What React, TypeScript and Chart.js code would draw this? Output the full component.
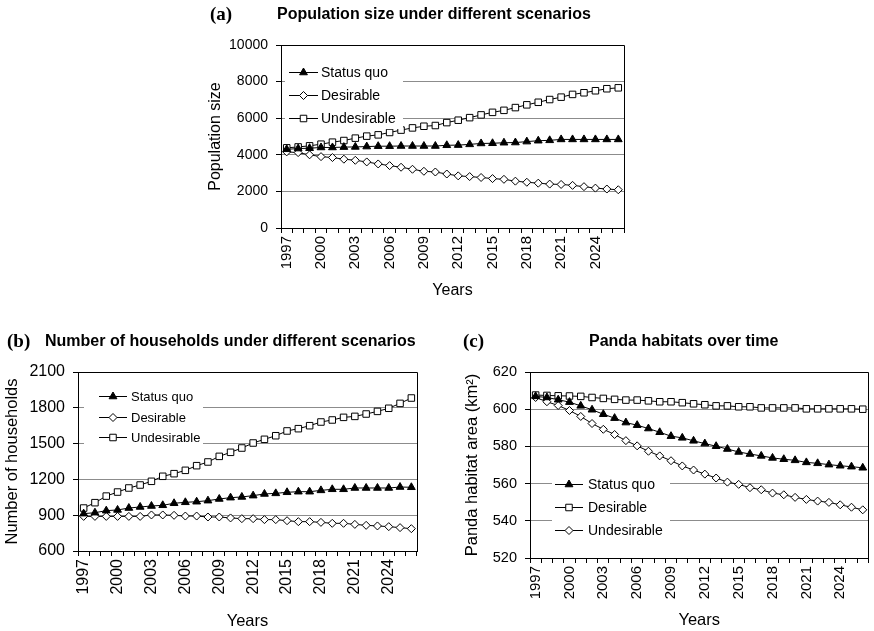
import React, { useEffect, useRef } from 'react';
import { Chart, registerables } from 'chart.js';

Chart.register(...registerables);
Chart.defaults.font.family = '"Liberation Sans", Arial, sans-serif';
Chart.defaults.color = '#000';

const years = ['1997', '1998', '1999', '2000', '2001', '2002', '2003', '2004', '2005', '2006',
  '2007', '2008', '2009', '2010', '2011', '2012', '2013', '2014', '2015', '2016',
  '2017', '2018', '2019', '2020', '2021', '2022', '2023', '2024', '2025', '2026'];

// (a) Population size
const popStatusQuo = [4300, 4340, 4360, 4400, 4400, 4420, 4430, 4450, 4470, 4470, 4480, 4480, 4480, 4480, 4520,
  4530, 4570, 4620, 4630, 4660, 4670, 4720, 4770, 4790, 4840, 4840, 4840, 4840, 4840, 4840];
const popDesirable = [4160, 4120, 4000, 3900, 3850, 3760, 3700, 3610, 3500, 3410, 3320, 3210, 3100, 3060, 2950,
  2850, 2810, 2760, 2700, 2660, 2560, 2500, 2450, 2400, 2380, 2330, 2260, 2180, 2130, 2090];
const popUndesirable = [4380, 4430, 4490, 4580, 4690, 4780, 4910, 5020, 5090, 5220, 5350, 5470, 5560, 5600, 5760,
  5890, 6030, 6180, 6320, 6430, 6580, 6730, 6870, 7020, 7150, 7300, 7390, 7500, 7610, 7660];

// (b) Number of households
const hhStatusQuo = [913, 921, 938, 944, 960, 969, 977, 983, 1000, 1008, 1013, 1022, 1036, 1047, 1053,
  1064, 1078, 1083, 1092, 1097, 1097, 1108, 1117, 1117, 1128, 1128, 1128, 1128, 1136, 1134];
const hhDesirable = [890, 890, 890, 890, 890, 890, 902, 902, 899, 893, 893, 885, 885, 877, 871,
  871, 863, 863, 854, 846, 846, 840, 832, 832, 823, 815, 810, 804, 796, 787];
const hhUndesirable = [960, 1005, 1060, 1094, 1128, 1153, 1184, 1226, 1248, 1276, 1315, 1346, 1393, 1427, 1463,
  1505, 1536, 1566, 1606, 1625, 1650, 1681, 1698, 1720, 1728, 1748, 1770, 1796, 1837, 1882];

// (c) Panda habitat area (km2)
const habStatusQuo = [606.9, 606.3, 605.1, 603.8, 601.8, 599.7, 597.3, 595.2, 592.8, 591.4, 589.6, 587.6, 585.5, 584.6, 583.0,
  581.5, 580.1, 578.6, 577.0, 575.9, 574.9, 573.8, 573.1, 572.5, 571.4, 570.9, 570.2, 569.6, 569.1, 568.5];
const habDesirable = [607.6, 607.4, 607.2, 607.1, 606.9, 606.3, 605.8, 605.3, 604.9, 604.9, 604.5, 604.0, 604.0, 603.5, 602.9,
  602.4, 601.8, 601.8, 601.3, 601.3, 600.7, 600.7, 600.7, 600.7, 600.2, 600.2, 600.2, 600.2, 600.2, 600.0];
const habUndesirable = [606.3, 604.0, 602.0, 599.3, 596.1, 592.3, 589.2, 586.4, 583.1, 580.3, 577.4, 574.9, 572.3, 569.5, 567.3,
  565.1, 563.0, 560.8, 559.6, 557.8, 556.7, 554.9, 554.0, 552.6, 551.5, 550.6, 549.9, 548.6, 547.3, 545.9];

type Marker = 'triangle' | 'rect' | 'rectRot';
interface SeriesCfg { label: string; data: number[]; marker: Marker; }
interface LegendCfg { lineStart: number; lineEnd: number; textX: number; rows: number[]; bgLeft: number; bgRight: number; }
interface PanelCfg {
  letter: string; title: string;
  left: number; top: number; width: number; height: number;
  letterX: number; titleX: number; headY: number;
  yAxisWidth: number; padTop: number; padRight: number; xAxisHeight: number;
  yMin: number; yMax: number; yStep: number; yTitle: string; yTitlePad: number; xTitlePad: number;
  yTickFont: number; xTickFont: number; legendFont: number; axisTitleFont: number;
  series: SeriesCfg[];
  legend: LegendCfg;
}

const markerRadius: Record<Marker, number> = { triangle: 4.5, rect: 4.6, rectRot: 4 };

function drawMarker(ctx: CanvasRenderingContext2D, m: Marker, x: number, y: number) {
  const r = markerRadius[m];
  ctx.beginPath();
  if (m === 'triangle') {
    ctx.moveTo(x, y - r);
    ctx.lineTo(x + r * 0.866, y + r * 0.5);
    ctx.lineTo(x - r * 0.866, y + r * 0.5);
    ctx.closePath();
    ctx.fillStyle = '#000';
  } else if (m === 'rect') {
    const h = r * Math.SQRT1_2;
    ctx.rect(x - h, y - h, 2 * h, 2 * h);
    ctx.fillStyle = '#fff';
  } else {
    ctx.moveTo(x, y - r);
    ctx.lineTo(x + r, y);
    ctx.lineTo(x, y + r);
    ctx.lineTo(x - r, y);
    ctx.closePath();
    ctx.fillStyle = '#fff';
  }
  ctx.fill();
  ctx.stroke();
}

const panels: PanelCfg[] = [
  {
    letter: '(a)', title: 'Population size under different scenarios',
    left: 195, top: 0, width: 440, height: 305,
    letterX: 15, titleX: 82, headY: 15,
    yAxisWidth: 86, padTop: 45, padRight: 11, xAxisHeight: 77,
    yMin: 0, yMax: 10000, yStep: 2000, yTitle: 'Population size', yTitlePad: 11, xTitlePad: 5,
    yTickFont: 14, xTickFont: 15, legendFont: 14, axisTitleFont: 16,
    series: [
      { label: 'Status quo', data: popStatusQuo, marker: 'triangle' },
      { label: 'Desirable', data: popDesirable, marker: 'rectRot' },
      { label: 'Undesirable', data: popUndesirable, marker: 'rect' },
    ],
    legend: { lineStart: 8, lineEnd: 37, textX: 40, rows: [27, 50, 73], bgLeft: 4, bgRight: 122 },
  },
  {
    letter: '(b)', title: 'Number of households under different scenarios',
    left: 0, top: 315, width: 430, height: 316,
    letterX: 7, titleX: 45, headY: 27,
    yAxisWidth: 78, padTop: 57, padRight: 13, xAxisHeight: 80,
    yMin: 600, yMax: 2100, yStep: 300, yTitle: 'Number of households', yTitlePad: 3, xTitlePad: 0,
    yTickFont: 16, xTickFont: 16, legendFont: 13, axisTitleFont: 16.5,
    series: [
      { label: 'Status quo', data: hhStatusQuo, marker: 'triangle' },
      { label: 'Desirable', data: hhDesirable, marker: 'rectRot' },
      { label: 'Undesirable', data: hhUndesirable, marker: 'rect' },
    ],
    legend: { lineStart: 21, lineEnd: 49, textX: 53, rows: [24, 45, 65], bgLeft: 6, bgRight: 125 },
  },
  {
    letter: '(c)', title: 'Panda habitats over time',
    left: 440, top: 315, width: 434, height: 316,
    letterX: 23, titleX: 149, headY: 27,
    yAxisWidth: 90, padTop: 57, padRight: 1, xAxisHeight: 73,
    yMin: 520, yMax: 620, yStep: 20, yTitle: 'Panda habitat area (km²)', yTitlePad: 23, xTitlePad: 1,
    yTickFont: 14.5, xTickFont: 15, legendFont: 14, axisTitleFont: 16.5,
    series: [
      { label: 'Status quo', data: habStatusQuo, marker: 'triangle' },
      { label: 'Desirable', data: habDesirable, marker: 'rect' },
      { label: 'Undesirable', data: habUndesirable, marker: 'rectRot' },
    ],
    legend: { lineStart: 25, lineEnd: 53, textX: 58, rows: [112, 135, 158], bgLeft: 22, bgRight: 140 },
  },
];

function Panel({ cfg }: { cfg: PanelCfg }) {
  const ref = useRef<HTMLCanvasElement | null>(null);
  useEffect(() => {
    const canvas = ref.current;
    if (!canvas) return;
    const framePlugin = {
      id: 'frame' + cfg.letter,
      afterDraw(chart: any) {
        const { ctx, chartArea } = chart;
        const { left, right, top, bottom } = chartArea;
        ctx.save();
        ctx.strokeStyle = '#000';
        ctx.lineWidth = 1;
        const t = Math.round(top) + 0.5;
        const r = Math.round(right) + 0.5;
        ctx.beginPath();
        ctx.moveTo(Math.round(left), t);
        ctx.lineTo(r, t);
        ctx.lineTo(r, Math.round(bottom) + 1);
        ctx.stroke();

        const L = cfg.legend;
        ctx.fillStyle = '#fff';
        ctx.fillRect(left + L.bgLeft, top + L.rows[0] - 11, L.bgRight - L.bgLeft, L.rows[2] - L.rows[0] + 22);
        cfg.series.forEach((s, i) => {
          const y = Math.round(top + L.rows[i]) + 0.5;
          ctx.strokeStyle = '#000';
          ctx.beginPath();
          ctx.moveTo(left + L.lineStart, y);
          ctx.lineTo(left + L.lineEnd, y);
          ctx.stroke();
          drawMarker(ctx, s.marker, left + (L.lineStart + L.lineEnd) / 2, y);
          ctx.fillStyle = '#000';
          ctx.font = `${cfg.legendFont}px "Liberation Sans", Arial, sans-serif`;
          ctx.textBaseline = 'middle';
          ctx.textAlign = 'left';
          ctx.fillText(s.label, left + L.textX, y + 0.5);
        });

        ctx.fillStyle = '#000';
        ctx.textBaseline = 'middle';
        ctx.textAlign = 'left';
        ctx.font = 'bold 19px "Liberation Serif", "Times New Roman", serif';
        ctx.fillText(cfg.letter, cfg.letterX, cfg.headY);
        ctx.font = 'bold 16px "Liberation Sans", Arial, sans-serif';
        ctx.fillText(cfg.title, cfg.titleX, cfg.headY);
        ctx.restore();
      },
    };

    const chart = new Chart(canvas, {
      type: 'line',
      data: {
        labels: years,
        datasets: cfg.series.map((s) => ({
          label: s.label,
          data: s.data,
          borderColor: '#000',
          borderWidth: 1,
          pointStyle: s.marker,
          pointRadius: markerRadius[s.marker],
          pointBorderWidth: 1,
          pointBorderColor: '#000',
          pointBackgroundColor: s.marker === 'triangle' ? '#000' : '#fff',
          tension: 0,
          fill: false,
        })),
      },
      options: {
        responsive: false,
        animation: false,
        events: [],
        layout: { padding: { left: 0, top: cfg.padTop, right: cfg.padRight, bottom: 0 } },
        plugins: { legend: { display: false }, tooltip: { enabled: false }, title: { display: false } },
        scales: {
          x: {
            type: 'category',
            offset: true,
            grid: { offset: true, drawOnChartArea: false, drawTicks: true, tickLength: 5, tickColor: '#000', color: '#000' },
            border: { color: '#000', width: 1 },
            ticks: {
              autoSkip: false,
              maxRotation: 90,
              minRotation: 90,
              padding: 3,
              color: '#000',
              font: { size: cfg.xTickFont },
              callback: function (this: any, val: any, index: number) {
                return index % 3 === 0 ? this.getLabelForValue(val) : '';
              },
            },
            title: {
              display: true, text: 'Years', color: '#000',
              font: { size: cfg.axisTitleFont },
              padding: { top: 0, bottom: cfg.xTitlePad },
            },
            afterFit: (s: any) => { s.height = cfg.xAxisHeight; s.paddingLeft = 0; s.paddingRight = 0; },
          },
          y: {
            min: cfg.yMin,
            max: cfg.yMax,
            ticks: {
              stepSize: cfg.yStep, padding: 8, color: '#000', font: { size: cfg.yTickFont },
              callback: (v: any) => String(v),
            },
            grid: { color: '#8c8c8c', tickColor: '#000', tickLength: 5, lineWidth: 1 },
            border: { color: '#000', width: 1 },
            title: {
              display: true, text: cfg.yTitle, color: '#000',
              font: { size: cfg.axisTitleFont },
              padding: { top: cfg.yTitlePad, bottom: 0 },
            },
            afterFit: (s: any) => { s.width = cfg.yAxisWidth; s.paddingTop = 0; s.paddingBottom = 0; },
          },
        },
      } as any,
      plugins: [framePlugin],
    });
    return () => chart.destroy();
  }, [cfg]);
  return (
    <canvas
      ref={ref}
      width={cfg.width}
      height={cfg.height}
      style={{ position: 'absolute', left: cfg.left, top: cfg.top, width: cfg.width, height: cfg.height }}
    />
  );
}

export default function App() {
  return (
    <div style={{ position: 'fixed', left: 0, top: 0, width: 874, height: 631, background: '#fff', overflow: 'hidden' }}>
      {panels.map((p) => (
        <Panel key={p.letter} cfg={p} />
      ))}
    </div>
  );
}
